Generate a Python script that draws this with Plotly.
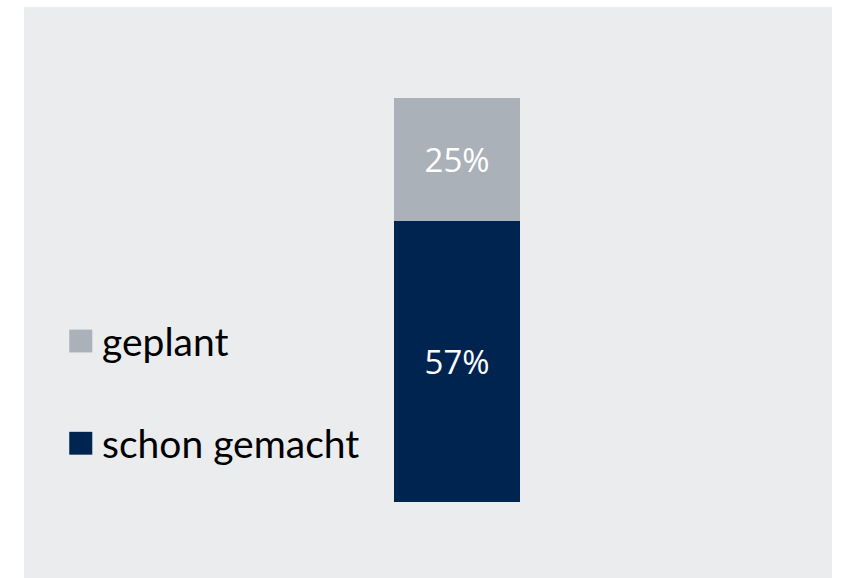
import plotly.graph_objects as go

# data
categories = ["Anteil"]
series_names = ["schon gemacht", "geplant"]
series_values = [[57], [25]]
series_colors = ["#002450", "#ABB1B8"]

fig = go.Figure()

for name, vals, color in zip(series_names, series_values, series_colors):
    fig.add_trace(go.Bar(
        x=[0] * len(categories),
        y=vals,
        name=name,
        width=1,
        marker=dict(color=color, line=dict(width=0)),
        text=[f"{v}%" for v in vals],
        textposition="inside",
        insidetextanchor="middle",
        textfont=dict(family="Open Sans", size=33, color="white"),
        showlegend=False,
    ))

# legend drawn by hand (large squares like the original)
legend_y = {"geplant": 0.415, "schon gemacht": 0.236}
for name, color in zip(series_names, series_colors):
    yc = legend_y[name]
    fig.add_shape(type="rect", xref="paper", yref="paper",
                  x0=0.056, x1=0.0845, y0=yc - 0.020, y1=yc + 0.020,
                  fillcolor=color, line=dict(width=0))
    fig.add_annotation(x=0.094, y=yc, xref="paper", yref="paper",
                       text=name, showarrow=False, xanchor="left", yanchor="middle",
                       font=dict(family="Lato", size=39, color="black"))

fig.update_layout(
    width=843, height=578,
    margin=dict(l=24, r=11, t=7, b=0),
    paper_bgcolor="white",
    plot_bgcolor="#EBECEE",
    barmode="stack",
    xaxis=dict(range=[-3.437, 2.976], visible=False),
    yaxis=dict(range=[-15.4, 100.4], visible=False),
)

fig.write_html("out.html", config={"displayModeBar": False},
               post_script="document.body.style.margin='0';")
